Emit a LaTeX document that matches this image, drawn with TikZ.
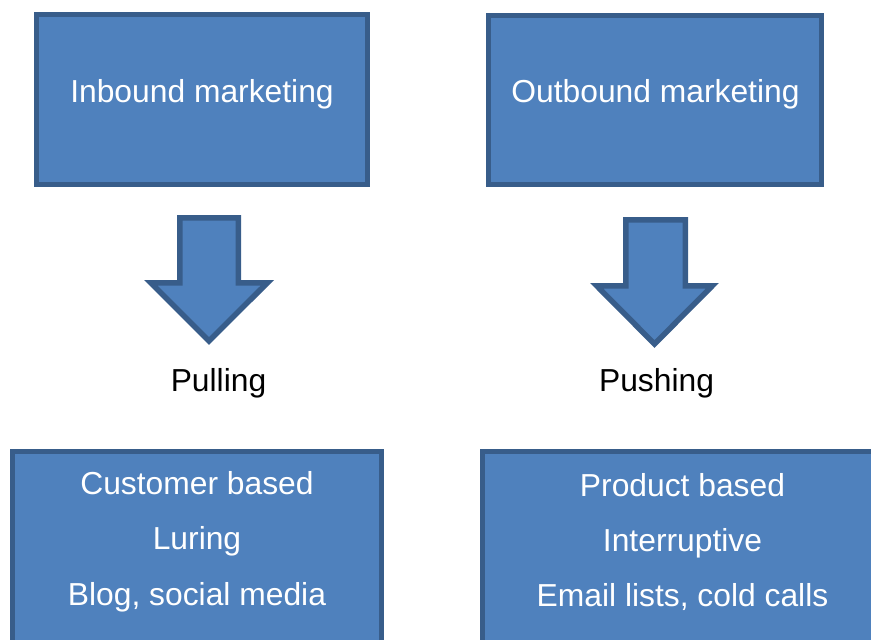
\documentclass[tikz,border=0pt]{standalone}
\usepackage{fontspec}
\setmainfont{Liberation Sans}
\definecolor{boxfill}{HTML}{4F81BD}
\definecolor{boxline}{HTML}{385D8A}
\begin{document}
\begin{tikzpicture}[x=1pt,y=-1pt,
  box/.style={draw=boxline, fill=boxfill, line width=5pt, inner sep=0pt, outer sep=0pt},
  blockarrow/.style={draw=boxline, fill=boxfill, line width=5.5pt, line join=miter},
  lbl/.style={anchor=base, inner sep=0pt, font=\fontsize{31.8}{38}\selectfont},
  boxtxt/.style={lbl, text=white}]
\useasboundingbox (0,0) rectangle (871,640);
\clip (0,0) rectangle (871,640);

% top boxes
\node[box, minimum width=331pt, minimum height=170pt] (inbound) at (202,99.5) {};
\node[box, minimum width=333pt, minimum height=169pt] (outbound) at (655,100) {};
\node[boxtxt] (inboundtxt) at (202,102) {Inbound marketing};
\node[boxtxt] (outboundtxt) at (655.5,102) {Outbound marketing};

% block arrows
\draw[blockarrow] (179.75,217.75) -- (238.25,217.75) -- (238.25,282.75) -- (267.4,282.75)
  -- (209,341) -- (150.7,282.75) -- (179.75,282.75) -- cycle;
\draw[blockarrow] (625.75,219.75) -- (685.25,219.75) -- (685.25,285.75) -- (712.35,285.75)
  -- (654.5,344) -- (596.65,285.75) -- (625.75,285.75) -- cycle;

% labels under the arrows
\node[lbl] (pulling) at (218.5,391) {Pulling};
\node[lbl] (pushing) at (656.5,391) {Pushing};

% bottom boxes
\node[box, anchor=north west, minimum width=369pt, minimum height=260pt] (inlist) at (12.5,451.5) {};
\node[box, anchor=north west, minimum width=400pt, minimum height=260pt] (outlist) at (482.5,451.5) {};

\node[boxtxt] (cust) at (197,494) {Customer based};
\node[boxtxt] (luring) at (197,549) {Luring};
\node[boxtxt] (blog) at (197,605) {Blog, social media};

\node[boxtxt] (prod) at (682.5,496) {Product based};
\node[boxtxt] (interr) at (682.5,551) {Interruptive};
\node[boxtxt] (email) at (682.5,606) {Email lists, cold calls};
\end{tikzpicture}
\end{document}
